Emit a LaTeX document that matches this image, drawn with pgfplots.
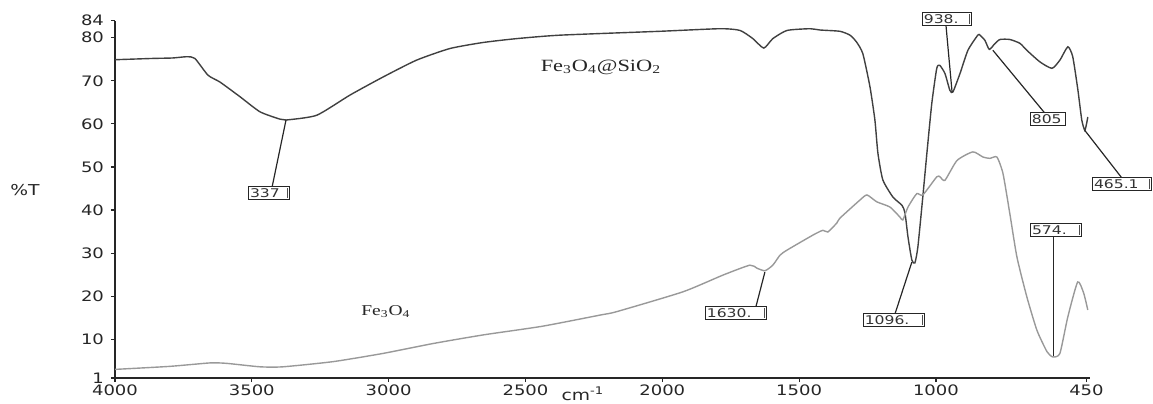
\documentclass[border=0pt]{standalone}
\usepackage{fontspec}
\setmainfont{DejaVu Sans}[FakeStretch=1.25]
\newfontfamily\serifst{Liberation Serif}[FakeStretch=1.3]
\newfontfamily\lblfnt{DejaVu Sans}[FakeStretch=1.3]
\usepackage{pgfplots}
\pgfplotsset{compat=1.18}
\pgfplotstableread{
x y
4000 74.9
3861 75.2
3790 75.3
3737 75.6
3708 75.2
3660 71.3
3616 69.7
3543 66.3
3470 62.8
3397 61.1
3375 60.9
3263 62.0
3141 66.7
3020 70.9
2898 74.8
2776 77.5
2655 78.9
2532 79.8
2374 80.6
2009 81.5
1789 82.1
1716 81.7
1669 79.8
1629 77.6
1596 79.8
1544 81.7
1460 82.1
1424 81.8
1351 81.5
1314 80.6
1290 79.0
1267 76.3
1241 68.6
1223 60.9
1212 53.2
1194 47.0
1157 43.0
1124 41.1
1113 39.3
1102 33.7
1088 28.4
1077 27.7
1066 31.4
1048 43.0
1033 53.2
1015 64.8
997 72.9
986 73.6
967 71.7
949 67.8
938 67.4
912 71.7
883 77.1
847 80.6
839 80.6
821 79.4
805 77.3
785 78.6
766 79.6
730 79.6
693 78.7
668 77.1
620 74.4
576 72.9
547 74.8
518 77.9
500 75.6
481 67.8
467 60.9
456 58.5
449 60.2
445 61.6
}\silica
\pgfplotstableread{
x y
4000 3.0
3800 3.7
3653 4.5
3592 4.4
3470 3.6
3386 3.6
3203 4.8
3021 6.7
2838 9.0
2655 11.0
2440 13.0
2228 15.6
2167 16.4
1925 21.0
1778 24.9
1680 27.2
1654 26.5
1625 25.9
1596 27.2
1570 29.5
1544 30.7
1449 34.2
1413 35.3
1395 34.9
1362 37.0
1351 38.1
1278 42.3
1252 43.5
1216 41.9
1168 40.7
1132 38.4
1121 37.7
1102 40.7
1070 43.8
1048 43.5
997 47.7
985 47.7
967 46.9
923 51.5
865 53.5
828 52.3
803 52.0
777 52.3
755 48.5
730 39.2
704 29.1
668 19.9
631 12.1
594 7.1
573 5.9
547 6.7
518 15.2
482 23.3
460 20.7
445 16.8
}\magnetite
\newcommand\clipmark{\hfill{\color{black!70}\rule[-0.3pt]{0.6pt}{4.8pt}}}
\begin{document}
\begin{tikzpicture}
\useasboundingbox (-57.5pt,-12.5pt) rectangle (519pt,189pt);
\begin{axis}[
  at={(0,0)}, anchor=south west,
  scale only axis, width=487.5pt, height=178.75pt,
  x dir=reverse, xmin=437, xmax=4000, ymin=1, ymax=84,
  axis x line*=bottom, axis y line*=left,
  axis line style={black!85, line width=0.8pt},
  xtick={4000,3500,3000,2500,2000,1500,1000,450},
  xticklabels={4000,3500,3000,2500,2000,1500,1000,450},
  ytick={1,10,20,30,40,50,60,70,80,84},
  tick align=outside, major tick length=2pt,
  tick style={black!85, line width=0.6pt},
  ticklabel style={font=\fontsize{7.2}{8}\selectfont, text=black!85},
  xticklabel style={inner sep=1pt},
  /pgf/number format/assume math mode=true,
  clip=false,
]
\addplot[color=black!75, line width=0.7pt, smooth, tension=0.35] table[x=x,y=y] {\silica};
\addplot[color=black!40, line width=0.7pt, smooth, tension=0.35] table[x=x,y=y] {\magnetite};

% axis texts
\node[font=\fontsize{7.5}{9}\selectfont, text=black!85] at (rel axis cs:0,0.526) [xshift=-45pt] {\%T};
\node[font=\fontsize{7.5}{9}\selectfont, text=black!85] at (rel axis cs:0.48,0) [yshift=-8pt] {cm\textsuperscript{-1}};

% sample names
\node[font=\serifst\fontsize{8.6}{10}\selectfont, text=black!85] at (axis cs:2224,73.2) {Fe\textsubscript{3}O\textsubscript{4}@SiO\textsubscript{2}};
\node[font=\serifst\fontsize{7.5}{9}\selectfont, text=black!85] at (axis cs:3010,16.5) {Fe\textsubscript{3}O\textsubscript{4}};

% leader lines
\draw[black!85, line width=0.6pt] (axis cs:3375,60.9) -- (axis cs:3426,45.3);
\draw[black!85, line width=0.6pt] (axis cs:941,67.4) -- (axis cs:963,82.7);
\draw[black!85, line width=0.6pt] (axis cs:792,77.1) -- (axis cs:602,62.5);
\draw[black!85, line width=0.6pt] (axis cs:456,58.5) -- (axis cs:320,47.4);
\draw[black!85, line width=0.6pt] (axis cs:1625,25.6) -- (axis cs:1658,17.5);
\draw[black!85, line width=0.6pt] (axis cs:1088,27.9) -- (axis cs:1150,15.8);
\draw[black!85, line width=0.6pt] (axis cs:569,6.1) -- (axis cs:569,33.9);

% peak label boxes
\tikzset{pk/.style={draw=black!85, line width=0.5pt, fill=white, inner sep=0.8pt,
  font=\lblfnt\fontsize{6}{6.5}\selectfont, text=black!80, text width=#1, align=left,
  minimum height=6.5pt}}
\node[pk=19pt] at (axis cs:3437,43.9) {337\clipmark};
\node[pk=23pt] at (axis cs:960,84.3) {938.\clipmark};
\node[pk=16pt] at (axis cs:591,61.1) {805};
\node[pk=28pt] at (axis cs:320,46.0) {465.1\clipmark};
\node[pk=29pt] at (axis cs:1731,16.1) {1630.\clipmark};
\node[pk=29pt] at (axis cs:1154,14.5) {1096.\clipmark};
\node[pk=24pt] at (axis cs:561,35.3) {574.\clipmark};
\end{axis}
\end{tikzpicture}
\end{document}
